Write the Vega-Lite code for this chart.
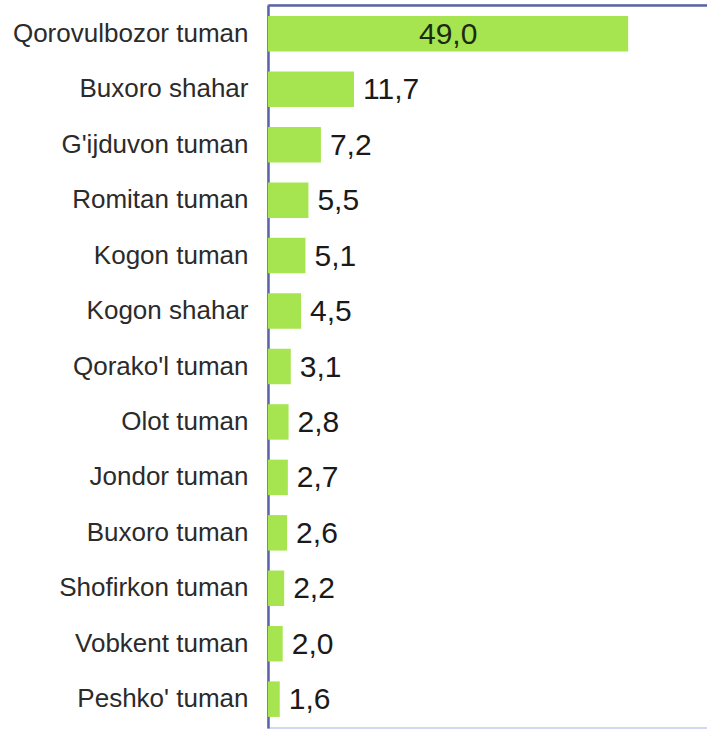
{
  "$schema": "https://vega.github.io/schema/vega-lite/v6.json",
  "autosize": {"type": "none"},
  "width": 441,
  "height": 723,
  "padding": {"left": 268, "top": 5, "right": 0, "bottom": 2},
  "background": "white",
  "config": {
    "font": "Liberation Sans",
    "view": {"stroke": "#c3cbea", "strokeWidth": 1.5}
  },
  "data": {
    "values": [
      {"district": "Qorovulbozor tuman", "value": 49.0, "label": "49,0"},
      {"district": "Buxoro shahar", "value": 11.7, "label": "11,7"},
      {"district": "G'ijduvon tuman", "value": 7.2, "label": "7,2"},
      {"district": "Romitan tuman", "value": 5.5, "label": "5,5"},
      {"district": "Kogon tuman", "value": 5.1, "label": "5,1"},
      {"district": "Kogon shahar", "value": 4.5, "label": "4,5"},
      {"district": "Qorako'l tuman", "value": 3.1, "label": "3,1"},
      {"district": "Olot tuman", "value": 2.8, "label": "2,8"},
      {"district": "Jondor tuman", "value": 2.7, "label": "2,7"},
      {"district": "Buxoro tuman", "value": 2.6, "label": "2,6"},
      {"district": "Shofirkon tuman", "value": 2.2, "label": "2,2"},
      {"district": "Vobkent tuman", "value": 2.0, "label": "2,0"},
      {"district": "Peshko' tuman", "value": 1.6, "label": "1,6"}
    ]
  },
  "encoding": {
    "y": {
      "field": "district",
      "type": "nominal",
      "sort": null,
      "scale": {"paddingInner": 0.36, "paddingOuter": 0.2},
      "axis": {
        "title": null,
        "ticks": false,
        "labelPadding": 20,
        "labelLimit": 400,
        "labelFontSize": 26,
        "labelColor": "#2b2b2b",
        "labelFont": "Liberation Sans",
        "domainColor": "#5a64a8",
        "domainWidth": 2.5
      }
    },
    "x": {
      "field": "value",
      "type": "quantitative",
      "scale": {"domain": [0, 60], "nice": false},
      "axis": {
        "orient": "top",
        "title": null,
        "labels": false,
        "ticks": false,
        "grid": false,
        "domainColor": "#5a64a8",
        "domainWidth": 2.5
      }
    }
  },
  "layer": [
    {"mark": {"type": "bar", "color": "#a6e550"}},
    {
      "transform": [{"filter": "datum.value < 40"}],
      "mark": {"type": "text", "align": "left", "baseline": "middle", "dx": 9, "dy": 1, "fontSize": 30, "color": "#1a1a1a"},
      "encoding": {"text": {"field": "label"}}
    },
    {
      "transform": [{"filter": "datum.value >= 40"}],
      "mark": {"type": "text", "align": "center", "baseline": "middle", "dx": -180, "dy": 1, "fontSize": 30, "color": "#1c2a12"},
      "encoding": {"text": {"field": "label"}}
    }
  ]
}
